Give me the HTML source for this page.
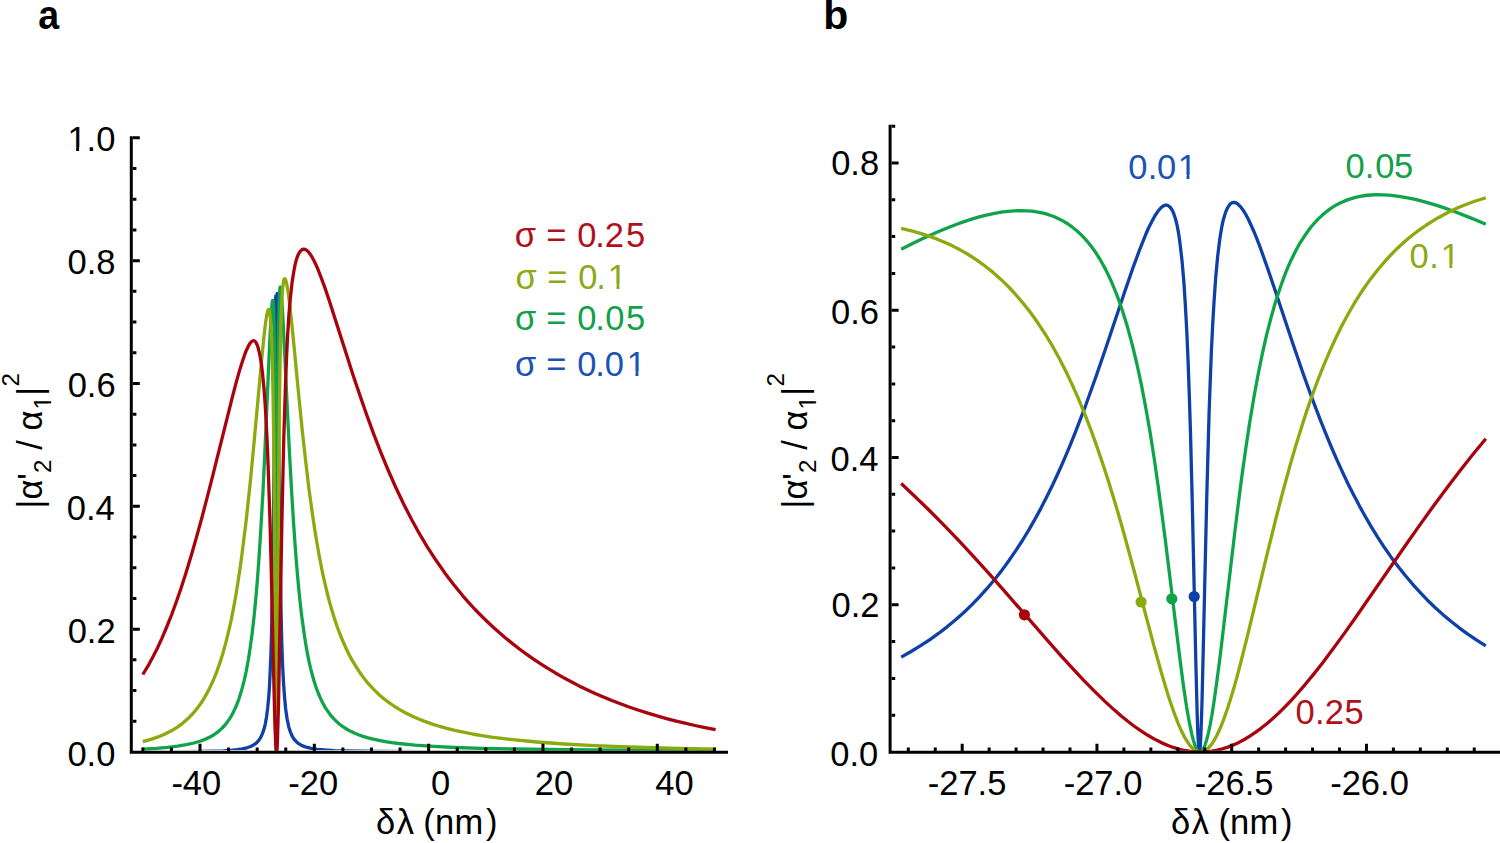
<!DOCTYPE html><html><head><meta charset="utf-8"><style>html,body{margin:0;padding:0;background:#fff;}svg{display:block;} text{font-family:"Liberation Sans",sans-serif;}</style></head><body><svg width="1500" height="843" viewBox="0 0 1500 843" font-family="Liberation Sans, sans-serif" font-size="34.5"><defs><clipPath id="ca"><rect x="133" y="100" width="600" height="650.7"/></clipPath><clipPath id="cab"><rect x="133" y="100" width="600" height="650.1"/></clipPath><clipPath id="cb"><rect x="891" y="100" width="609" height="650.7"/></clipPath></defs><rect width="1500" height="843" fill="#fff"/><g clip-path="url(#ca)" fill="none" stroke-width="3.30" stroke-linejoin="round"><path d="M142.8,751.9 187.0,751.6 213.6,751.1 223.1,750.8 230.8,750.3 237.0,749.7 242.2,748.9 246.8,747.8 250.6,746.5 253.7,744.9 256.5,742.9 258.8,740.3 260.7,737.4 262.4,733.8 263.9,729.4 265.4,723.6 266.6,716.4 267.7,707.7 268.7,697.6 269.5,685.8 270.2,671.2 270.9,654.3 271.5,635.3 272.4,593.2 273.3,537.8 274.0,468.7 275.3,324.8 275.6,303.0 275.8,295.8 276.0,314.7 276.2,376.5 276.5,752.0 276.8,378.2 277.0,313.8 277.2,293.5 277.4,299.3 277.7,318.3 279.0,473.7 280.0,554.4 281.2,618.2 281.8,642.8 282.5,663.1 283.4,681.0 284.5,696.4 285.6,708.5 287.0,718.3 288.6,726.2 289.5,729.4 290.6,732.4 291.7,735.0 292.9,737.4 294.3,739.5 295.9,741.2 297.2,742.5 298.7,743.7 300.4,744.7 302.1,745.6 306.3,747.2 311.2,748.4 317.3,749.3 324.9,750.0 334.4,750.6 346.5,751.0 379.3,751.5 434.9,751.7 715.6,751.9" stroke="#0e40a8" clip-path="url(#cab)"/><path d="M142.8,749.2 156.2,748.4 167.6,747.4 177.5,746.2 186.2,744.7 193.9,743.0 200.7,741.0 206.7,738.6 209.5,737.2 212.2,735.8 214.7,734.1 217.2,732.4 219.5,730.5 221.6,728.6 223.6,726.5 225.7,724.2 227.5,721.8 229.4,719.1 231.1,716.3 232.8,713.3 235.9,706.8 238.8,699.3 241.4,691.1 243.9,681.6 246.2,671.3 248.3,660.0 250.3,647.1 252.2,633.1 254.0,617.1 255.7,599.8 257.3,581.1 258.7,562.1 260.1,541.0 262.9,493.4 265.0,449.1 269.2,353.3 270.7,322.9 271.8,305.8 272.3,301.8 272.5,300.7 272.7,300.4 272.9,300.7 273.1,301.7 273.4,305.4 274.0,320.1 274.4,345.5 274.9,383.9 275.4,470.5 276.2,712.3 276.5,752.0 276.8,710.3 277.6,461.9 278.1,371.3 278.5,333.4 279.0,307.3 279.6,291.8 279.9,288.3 280.1,287.4 280.3,287.1 280.5,287.5 280.8,288.9 281.4,294.1 282.8,315.5 289.5,453.3 291.5,489.7 293.4,520.7 295.4,549.4 297.4,574.1 299.5,596.6 301.7,616.1 304.5,636.1 306.0,645.4 307.5,653.9 309.1,661.8 310.8,669.1 312.6,676.0 314.4,682.2 316.3,688.1 318.4,693.5 320.6,698.6 322.9,703.3 325.3,707.6 328.0,711.6 330.8,715.4 333.7,718.7 336.6,721.6 339.6,724.2 342.9,726.7 346.5,729.0 350.2,731.1 354.2,733.0 358.5,734.8 363.1,736.4 368.0,737.9 373.3,739.2 379.0,740.4 385.2,741.6 391.8,742.6 398.9,743.5 415.0,745.1 433.4,746.4 455.2,747.5 481.0,748.3 512.0,749.0 549.0,749.5 594.0,749.9 715.6,750.5" stroke="#10a44a"/><path d="M142.8,741.6 150.9,739.4 158.2,736.9 165.0,734.0 171.4,730.8 177.4,727.1 182.8,723.1 188.0,718.6 192.9,713.5 197.6,707.9 201.9,701.8 205.9,695.2 209.7,687.9 213.4,680.0 216.9,671.3 220.2,661.9 223.3,651.9 225.9,642.4 228.5,631.9 231.0,620.9 233.4,608.9 235.7,596.3 237.9,582.4 240.1,568.1 242.2,552.5 246.3,519.5 250.4,480.9 254.1,442.1 261.3,363.4 264.0,336.2 265.4,324.1 266.6,315.9 267.7,310.9 268.2,309.7 268.6,309.3 269.0,309.6 269.4,310.5 270.0,314.1 270.6,320.2 271.2,329.1 272.2,354.5 273.0,392.4 273.6,430.7 274.1,478.9 275.9,714.0 276.2,743.1 276.4,750.0 276.5,752.0 276.8,740.9 277.1,709.2 278.9,457.5 279.4,405.6 280.0,364.8 280.9,325.6 281.4,310.8 281.9,299.2 282.5,290.0 283.2,283.7 283.9,279.9 284.3,279.0 284.8,278.7 285.3,279.2 285.8,280.4 286.4,282.7 287.1,285.8 288.5,294.7 290.0,307.2 292.8,333.6 299.1,399.0 302.3,431.0 305.8,462.3 309.1,490.1 312.4,514.0 315.7,535.7 319.1,555.2 322.6,573.2 324.9,583.4 327.2,593.0 329.5,601.8 331.9,610.3 334.5,618.7 337.1,626.5 339.9,634.0 342.8,641.0 345.8,647.8 348.9,654.2 352.2,660.4 355.7,666.2 359.3,671.7 363.0,676.9 366.8,681.8 370.9,686.4 375.2,690.9 379.7,695.2 384.5,699.2 389.4,702.9 394.6,706.5 400.1,709.9 405.8,713.0 411.8,716.0 418.1,718.8 424.7,721.4 431.7,723.9 439.0,726.2 446.8,728.4 454.8,730.4 463.4,732.2 472.4,734.0 481.6,735.6 491.5,737.1 501.9,738.4 512.9,739.7 536.9,742.0 563.9,744.0 594.4,745.6 629.4,747.0 669.5,748.2 715.6,749.2" stroke="#8aaa0e"/><path d="M142.8,674.5 147.9,666.2 152.7,657.3 157.5,647.9 162.2,637.6 166.9,626.5 171.5,615.0 176.1,602.5 180.7,589.3 185.7,573.7 190.8,556.9 196.1,538.6 201.6,518.7 207.0,498.1 213.0,474.7 232.3,397.4 236.4,381.7 240.0,368.9 242.4,361.4 244.5,355.2 246.4,350.2 248.3,346.2 250.0,343.3 251.6,341.5 252.3,341.0 253.0,340.8 253.8,340.7 254.5,341.0 255.5,341.8 256.4,343.2 257.3,345.2 258.1,347.6 259.7,354.1 261.3,363.1 262.6,374.1 263.9,387.6 265.1,403.6 266.2,422.3 267.2,442.4 268.1,464.8 269.9,518.2 271.2,568.6 273.9,685.3 274.9,724.6 275.8,746.2 276.2,751.0 276.4,751.9 276.5,752.0 276.6,751.9 277.1,748.1 277.5,739.3 278.5,704.9 282.0,517.4 283.8,437.6 285.6,381.1 286.5,358.4 287.5,337.4 288.9,315.1 290.5,296.6 292.2,281.4 294.1,269.7 295.1,264.7 296.2,260.3 297.3,256.9 298.5,254.0 299.8,251.8 301.2,250.3 301.8,249.8 302.6,249.4 303.3,249.2 304.1,249.2 304.9,249.4 305.8,249.7 307.6,251.0 309.4,253.1 311.4,256.0 313.5,259.7 315.7,264.2 318.0,269.5 320.4,275.6 324.5,286.6 329.1,300.1 353.2,375.4 360.2,396.1 366.7,414.9 374.0,434.9 381.2,453.3 388.5,471.0 395.8,487.5 403.4,503.5 411.2,518.8 419.1,533.2 427.4,547.1 436.0,560.3 444.8,572.9 453.8,584.8 463.2,596.3 468.8,602.7 474.6,609.0 480.5,615.0 486.6,621.0 492.7,626.8 499.2,632.6 505.8,638.2 512.5,643.6 519.4,649.0 526.4,654.1 533.5,659.1 540.7,663.9 548.2,668.6 555.8,673.2 563.5,677.6 571.2,681.8 579.1,685.9 587.1,689.7 595.1,693.5 603.5,697.1 611.8,700.5 620.4,703.8 629.1,707.0 638.0,710.0 647.0,712.9 656.2,715.7 665.6,718.3 675.2,720.8 684.9,723.2 695.0,725.5 705.1,727.6 715.6,729.6" stroke="#a8040e"/></g><g clip-path="url(#cb)" fill="none" stroke-width="3.30" stroke-linejoin="round"><path d="M901.2,657.1 911.1,651.5 920.6,645.7 929.9,639.6 938.8,633.2 947.4,626.6 955.9,619.5 964.1,612.2 972.0,604.6 979.7,596.6 987.3,588.2 994.6,579.5 1001.8,570.4 1008.8,560.8 1015.6,550.9 1022.4,540.5 1029.0,529.6 1035.0,519.1 1041.0,508.1 1046.8,496.7 1052.7,484.7 1058.5,472.2 1064.2,459.3 1069.9,445.8 1075.7,431.3 1085.7,405.3 1096.2,376.0 1105.9,347.8 1125.2,290.2 1132.8,268.3 1139.6,249.8 1145.5,235.0 1148.8,227.5 1152.1,221.0 1155.1,215.5 1157.9,211.3 1160.5,208.2 1161.8,207.0 1163.0,206.2 1164.2,205.5 1165.3,205.2 1166.4,205.1 1167.5,205.3 1169.0,206.2 1170.6,207.7 1172.1,210.0 1173.4,212.8 1174.7,216.4 1175.9,220.5 1177.1,225.4 1178.2,231.1 1179.2,237.5 1180.2,244.9 1182.1,261.6 1183.9,282.3 1185.4,306.0 1186.8,331.5 1188.1,361.6 1189.3,395.1 1190.5,432.9 1192.2,499.4 1195.8,660.9 1197.2,714.8 1197.8,732.1 1198.4,743.6 1198.9,750.3 1199.2,751.7 1199.3,752.0 1199.5,751.9 1199.8,750.8 1200.1,748.3 1200.7,739.0 1201.3,723.9 1202.0,702.2 1203.1,656.3 1206.7,499.2 1208.0,452.1 1209.1,412.5 1210.3,379.7 1211.4,350.7 1212.7,324.4 1214.0,302.1 1215.7,277.5 1217.6,257.0 1219.7,239.8 1220.8,232.7 1221.9,226.3 1223.1,220.7 1224.5,215.7 1225.8,211.7 1227.3,208.4 1228.8,205.8 1230.3,204.0 1231.1,203.3 1232.0,202.8 1232.9,202.5 1233.8,202.4 1234.8,202.5 1235.8,202.9 1237.0,203.4 1238.1,204.3 1240.4,206.6 1242.8,209.7 1245.4,213.8 1248.2,219.0 1251.0,225.0 1254.1,232.0 1257.1,239.4 1260.3,247.7 1267.5,268.0 1274.4,288.3 1292.9,343.8 1303.2,373.8 1311.8,397.6 1320.0,419.2 1325.6,433.2 1331.1,446.5 1336.8,459.6 1342.4,471.9 1348.0,483.8 1353.7,495.1 1359.5,506.1 1365.3,516.5 1371.6,527.4 1378.1,537.8 1384.6,547.8 1391.3,557.4 1398.1,566.4 1405.1,575.3 1412.3,583.8 1419.6,591.9 1427.0,599.7 1434.8,607.2 1442.7,614.4 1450.9,621.3 1459.2,627.8 1467.8,634.1 1476.7,640.2 1485.8,645.9" stroke="#0e40a8"/><path d="M901.2,249.3 911.6,244.1 921.3,239.3 930.7,235.0 939.8,231.1 948.4,227.5 956.8,224.3 964.8,221.4 972.6,218.9 980.1,216.7 987.5,214.9 994.5,213.4 1001.2,212.2 1007.8,211.3 1014.2,210.8 1020.4,210.6 1026.4,210.8 1032.2,211.2 1037.9,212.1 1043.3,213.2 1048.6,214.7 1053.7,216.5 1058.6,218.7 1063.3,221.1 1068.0,224.0 1072.4,227.2 1076.8,230.7 1081.0,234.6 1085.1,238.9 1089.0,243.5 1092.9,248.5 1096.5,253.8 1100.2,259.7 1103.2,265.0 1106.2,270.6 1109.1,276.6 1111.9,282.7 1114.6,289.3 1117.3,296.1 1119.9,303.3 1122.5,311.0 1127.5,327.1 1132.3,344.9 1136.9,364.0 1141.4,384.9 1145.6,406.9 1149.8,430.6 1153.9,456.5 1158.0,485.1 1161.6,511.5 1165.5,541.5 1180.2,661.1 1183.5,686.3 1186.5,706.3 1188.4,717.2 1190.2,726.7 1191.9,734.6 1193.6,741.0 1195.2,745.9 1196.8,749.3 1197.6,750.5 1198.4,751.4 1199.3,751.9 1200.1,752.0 1200.9,751.8 1201.7,751.2 1202.5,750.3 1203.3,749.0 1204.9,745.3 1206.6,740.0 1208.3,733.3 1210.1,725.0 1211.9,715.2 1213.7,703.7 1216.7,682.6 1220.1,656.6 1234.5,534.8 1238.2,504.5 1241.7,477.5 1245.7,449.0 1249.7,422.5 1253.7,398.5 1257.8,376.1 1262.1,354.9 1266.4,335.7 1271.0,317.8 1275.7,301.3 1280.7,286.2 1283.2,279.2 1285.8,272.4 1288.4,266.1 1291.2,259.9 1294.0,254.2 1296.8,248.8 1300.1,242.9 1303.7,237.3 1307.2,232.2 1310.8,227.3 1314.6,222.8 1318.6,218.6 1322.7,214.8 1326.7,211.4 1331.1,208.2 1335.5,205.4 1340.1,203.0 1344.7,200.9 1349.6,199.1 1354.6,197.6 1359.9,196.4 1365.3,195.5 1370.9,195.0 1376.6,194.7 1382.6,194.8 1388.9,195.2 1395.3,195.8 1402.0,196.8 1409.1,198.1 1416.4,199.7 1423.8,201.6 1431.7,203.9 1439.8,206.4 1448.2,209.3 1457.0,212.5 1466.2,216.1 1475.9,220.0 1485.8,224.3" stroke="#10a44a"/><path d="M901.2,228.4 913.5,231.4 919.5,233.1 925.2,234.9 931.0,236.9 936.6,238.9 942.1,241.2 947.5,243.6 952.8,246.1 958.1,248.8 963.2,251.6 968.2,254.5 973.1,257.6 977.9,260.9 982.7,264.3 987.3,267.8 992.0,271.6 996.5,275.5 1000.9,279.4 1005.3,283.6 1009.7,288.0 1013.9,292.5 1022.2,302.1 1030.3,312.3 1038.1,323.3 1045.8,335.0 1053.1,347.2 1059.7,359.2 1066.2,372.0 1072.5,385.4 1078.8,399.7 1085.0,414.6 1091.1,430.4 1097.1,447.1 1103.1,464.7 1108.2,480.5 1113.3,497.1 1118.6,514.8 1124.0,533.8 1133.8,569.7 1153.4,643.8 1161.1,671.8 1164.7,683.9 1168.0,694.9 1171.2,704.6 1174.3,713.4 1177.9,722.8 1181.4,730.8 1184.7,737.4 1188.1,742.8 1189.7,745.1 1191.3,747.0 1192.9,748.6 1194.5,749.9 1196.1,750.9 1197.7,751.5 1199.2,751.9 1200.8,752.0 1202.4,751.7 1204.0,751.2 1205.7,750.3 1207.3,749.1 1208.9,747.5 1210.5,745.6 1212.2,743.4 1213.8,740.9 1217.2,734.8 1220.6,727.3 1224.1,718.3 1227.7,708.0 1230.7,698.5 1234.0,687.6 1237.3,675.7 1240.9,662.0 1248.5,631.6 1267.1,554.2 1276.2,517.5 1281.2,498.0 1286.1,479.7 1290.9,462.4 1295.6,446.4 1301.2,428.3 1306.7,411.1 1312.4,394.8 1318.1,379.4 1323.8,365.1 1329.7,351.3 1335.7,338.3 1341.8,325.8 1348.7,313.0 1355.8,300.8 1363.1,289.5 1370.6,278.9 1378.4,269.0 1386.4,259.6 1394.7,250.9 1399.0,246.8 1403.4,242.8 1407.7,239.0 1412.3,235.2 1416.9,231.7 1421.6,228.3 1426.4,225.0 1431.3,221.9 1436.2,218.9 1441.4,216.0 1446.6,213.2 1451.9,210.6 1457.3,208.1 1462.7,205.8 1474.0,201.5 1485.8,197.7" stroke="#8aaa0e"/><path d="M901.2,483.5 915.2,496.7 929.4,510.5 943.9,525.1 958.6,540.4 974.3,557.4 991.3,576.2 1008.2,595.4 1049.4,642.7 1061.1,655.8 1071.4,667.1 1083.5,680.1 1094.6,691.4 1105.1,701.6 1115.0,710.6 1121.5,716.2 1127.8,721.3 1133.9,726.0 1139.9,730.2 1145.9,734.1 1151.6,737.5 1157.4,740.6 1163.0,743.4 1168.6,745.7 1174.1,747.7 1179.5,749.3 1184.9,750.5 1190.4,751.4 1195.7,751.9 1201.0,752.0 1206.3,751.8 1211.7,751.2 1217.1,750.2 1222.5,748.8 1227.9,747.1 1233.4,744.9 1238.9,742.4 1244.3,739.5 1249.8,736.1 1255.4,732.4 1261.0,728.3 1266.8,723.7 1272.5,718.8 1278.4,713.4 1284.2,707.6 1290.3,701.3 1296.5,694.5 1304.9,684.8 1313.7,674.1 1323.1,662.2 1332.9,649.1 1343.1,635.1 1354.4,619.2 1406.6,543.8 1419.9,524.9 1432.0,508.0 1446.1,489.0 1459.6,471.2 1472.8,454.5 1485.8,438.7" stroke="#a8040e"/></g><circle cx="1024.4" cy="614.8" r="5.6" fill="#a8040e"/><circle cx="1141.1" cy="602.0" r="5.6" fill="#8aaa0e"/><circle cx="1171.8" cy="598.8" r="5.6" fill="#10a44a"/><circle cx="1194.2" cy="596.5" r="5.6" fill="#0e40a8"/><path d="M131.3,136.29999999999995 V753.8 M129.8,752.3 H728" stroke="#000" stroke-width="3" fill="none"/><path d="M200.01,752.3 V743.8 M314.33,752.3 V743.8 M428.65,752.3 V743.8 M542.97,752.3 V743.8 M657.29,752.3 V743.8 M142.85,752.3 V747.4 M171.43,752.3 V747.4 M228.59,752.3 V747.4 M257.17,752.3 V747.4 M285.75,752.3 V747.4 M342.91,752.3 V747.4 M371.49,752.3 V747.4 M400.07,752.3 V747.4 M457.23,752.3 V747.4 M485.81,752.3 V747.4 M514.39,752.3 V747.4 M571.55,752.3 V747.4 M600.13,752.3 V747.4 M628.71,752.3 V747.4 M685.87,752.3 V747.4 M714.45,752.3 V747.4 M132.8,629.16 H139.8 M132.8,506.32 H139.8 M132.8,383.48 H139.8 M132.8,260.64 H139.8 M132.8,137.80 H139.8 M132.8,168.51 H136.4 M132.8,199.22 H136.4 M132.8,229.93 H136.4 M132.8,291.35 H136.4 M132.8,322.06 H136.4 M132.8,352.77 H136.4 M132.8,414.19 H136.4 M132.8,444.90 H136.4 M132.8,475.61 H136.4 M132.8,537.03 H136.4 M132.8,567.74 H136.4 M132.8,598.45 H136.4 M132.8,659.87 H136.4 M132.8,690.58 H136.4 M132.8,721.29 H136.4 " stroke="#000" stroke-width="3" fill="none"/><path d="M890.1,124.6875 V753.8 M888.6,752.3 H1500" stroke="#000" stroke-width="3" fill="none"/><path d="M962.20,752.3 V743.8 M1096.95,752.3 V743.8 M1231.70,752.3 V743.8 M1366.45,752.3 V743.8 M908.30,752.3 V747.4 M935.25,752.3 V747.4 M989.15,752.3 V747.4 M1016.10,752.3 V747.4 M1043.05,752.3 V747.4 M1070.00,752.3 V747.4 M1123.90,752.3 V747.4 M1150.85,752.3 V747.4 M1177.80,752.3 V747.4 M1204.75,752.3 V747.4 M1258.65,752.3 V747.4 M1285.60,752.3 V747.4 M1312.55,752.3 V747.4 M1339.50,752.3 V747.4 M1393.40,752.3 V747.4 M1420.35,752.3 V747.4 M1447.30,752.3 V747.4 M1474.25,752.3 V747.4 M891.6,604.75 H898.6 M891.6,457.50 H898.6 M891.6,310.25 H898.6 M891.6,163.00 H898.6 M891.6,126.19 H895.2 M891.6,199.81 H895.2 M891.6,236.62 H895.2 M891.6,273.44 H895.2 M891.6,347.06 H895.2 M891.6,383.88 H895.2 M891.6,420.69 H895.2 M891.6,494.31 H895.2 M891.6,531.12 H895.2 M891.6,567.94 H895.2 M891.6,641.56 H895.2 M891.6,678.38 H895.2 M891.6,715.19 H895.2 " stroke="#000" stroke-width="3" fill="none"/><text transform="translate(38.31,29.3) scale(0.915,1)" font-size="41" font-weight="bold">a</text><text x="823.19" y="29.30" font-size="41" font-weight="bold">b</text><text x="67.39" y="151.40">1.0</text><text x="67.54" y="274.10">0.8</text><text x="67.66" y="396.50">0.6</text><text x="66.85" y="519.80">0.4</text><text x="67.68" y="642.90">0.2</text><text x="67.39" y="766.10">0.0</text><text x="831.14" y="175.30">0.8</text><text x="831.06" y="324.30">0.6</text><text x="830.55" y="470.50">0.4</text><text x="831.48" y="617.30">0.2</text><text x="830.29" y="766.10">0.0</text><text x="171.38" y="794.90">-40</text><text x="288.28" y="794.90">-20</text><text x="431.01" y="794.90">0</text><text x="534.72" y="794.90">20</text><text x="655.29" y="794.90">40</text><text x="927.74" y="795.10">-27.5</text><text x="1063.69" y="795.10">-27.0</text><text x="1194.84" y="795.10">-26.5</text><text x="1330.19" y="795.10">-26.0</text><text y="833.7"><tspan x="375.95">δ</tspan><tspan x="396.66">λ</tspan><tspan x="423.36">(</tspan><tspan x="434.91">n</tspan><tspan x="454.41">m</tspan><tspan x="485.90">)</tspan></text><text y="834.3"><tspan x="1171.05">δ</tspan><tspan x="1191.76">λ</tspan><tspan x="1218.46">(</tspan><tspan x="1230.01">n</tspan><tspan x="1249.51">m</tspan><tspan x="1281.00">)</tspan></text><text y="246.7" fill="#b0101c"><tspan x="514.75">σ</tspan> <tspan x="546.32">=</tspan> <tspan x="577.15">0</tspan><tspan x="595.35">.</tspan><tspan x="604.76">2</tspan><tspan x="626.12">5</tspan></text><text y="288.5" fill="#8aaa16"><tspan x="515.55">σ</tspan> <tspan x="547.32">=</tspan> <tspan x="578.15">0</tspan><tspan x="596.35">.</tspan><tspan x="607.78">1</tspan></text><text y="330.2" fill="#12a048"><tspan x="515.05">σ</tspan> <tspan x="546.32">=</tspan> <tspan x="577.15">0</tspan><tspan x="595.35">.</tspan><tspan x="605.15">0</tspan><tspan x="626.12">5</tspan></text><text y="375.7" fill="#1a52b6"><tspan x="515.05">σ</tspan> <tspan x="546.32">=</tspan> <tspan x="577.15">0</tspan><tspan x="595.35">.</tspan><tspan x="604.65">0</tspan><tspan x="626.78">1</tspan></text><text y="179.2" fill="#1a52b6"><tspan x="1128.25">0</tspan><tspan x="1147.65">.</tspan><tspan x="1156.95">0</tspan><tspan x="1177.78">1</tspan></text><text y="178.4" fill="#12a048"><tspan x="1345.45">0</tspan><tspan x="1364.85">.</tspan><tspan x="1375.15">0</tspan><tspan x="1394.12">5</tspan></text><text y="268.3" fill="#8aaa16"><tspan x="1409.45">0</tspan><tspan x="1429.15">.</tspan><tspan x="1440.68">1</tspan></text><text y="724.4" fill="#b0101c"><tspan x="1295.45">0</tspan><tspan x="1315.05">.</tspan><tspan x="1324.76">2</tspan><tspan x="1344.42">5</tspan></text><g transform="translate(42.0,508.582763671875) rotate(-90)"><text font-size="34.5">|α'<tspan font-size="24.0" dy="8.8">2</tspan><tspan dx="0.5" dy="-8.8"> / α</tspan><tspan font-size="24.0" dx="1.1" dy="8.8">1</tspan><tspan dx="0.4" dy="-8.8">|</tspan><tspan font-size="24.0" dx="0.2" dy="-23.4">2</tspan></text><rect x="100.08" y="6.46" width="5.06" height="3.98" fill="#fff"/><rect x="107.33" y="6.46" width="4.82" height="3.98" fill="#fff"/></g><g transform="translate(807.2,508.582763671875) rotate(-90)"><text font-size="34.5">|α'<tspan font-size="24.0" dy="8.8">2</tspan><tspan dx="0.5" dy="-8.8"> / α</tspan><tspan font-size="24.0" dx="1.1" dy="8.8">1</tspan><tspan dx="0.4" dy="-8.8">|</tspan><tspan font-size="24.0" dx="0.2" dy="-23.4">2</tspan></text><rect x="100.08" y="6.46" width="5.06" height="3.98" fill="#fff"/><rect x="107.33" y="6.46" width="4.82" height="3.98" fill="#fff"/></g><rect x="68.74" y="147.19" width="7.38" height="5.56" fill="#fff"/><rect x="79.06" y="147.19" width="7.02" height="5.56" fill="#fff"/><rect x="609.12" y="284.29" width="7.38" height="5.56" fill="#fff"/><rect x="619.45" y="284.29" width="7.02" height="5.56" fill="#fff"/><rect x="628.12" y="371.49" width="7.38" height="5.56" fill="#fff"/><rect x="638.45" y="371.49" width="7.02" height="5.56" fill="#fff"/><rect x="1179.12" y="174.99" width="7.38" height="5.56" fill="#fff"/><rect x="1189.45" y="174.99" width="7.02" height="5.56" fill="#fff"/><rect x="1442.02" y="264.09" width="7.38" height="5.56" fill="#fff"/><rect x="1452.35" y="264.09" width="7.02" height="5.56" fill="#fff"/></svg></body></html>
